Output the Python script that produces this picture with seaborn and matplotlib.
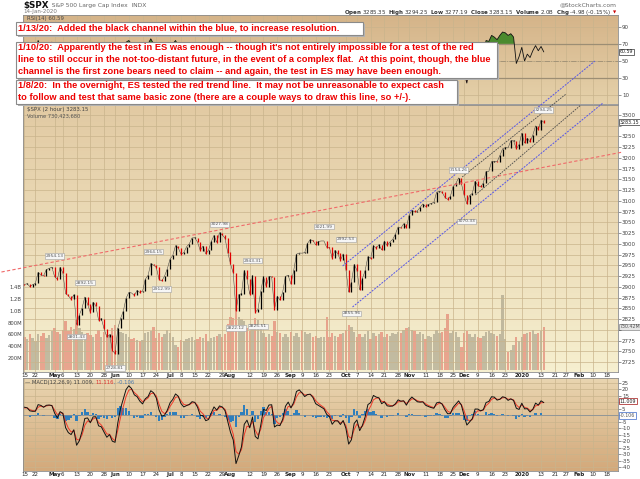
import numpy as np
import pandas as pd
import matplotlib
matplotlib.use('Agg')
import matplotlib.pyplot as plt
import seaborn as sns
from matplotlib.patches import Rectangle

sns.set_theme(style='white')
plt.rcParams['font.family'] = ['DejaVu Sans']

# trading calendar (x axis = trading day index, 0 = 15-Apr-2019)
holidays = ['2019-04-19', '2019-05-27', '2019-07-04', '2019-09-02', '2019-11-28',
            '2019-12-25', '2020-01-01', '2020-01-20', '2020-02-17']

# closes used only to warm up the MACD (1-12 Apr 2019)
warmup_close = [2867.19, 2867.24, 2873.40, 2879.39, 2892.74, 2895.77, 2878.20, 2888.21, 2888.32, 2907.41]

# daily closes 15-Apr-2019 .. 14-Jan-2020
close = [
    # Apr
    2905.58, 2907.06, 2900.45, 2905.03, 2907.97, 2933.68, 2927.25, 2926.17, 2939.88, 2943.03, 2945.83,
    # May
    2923.73, 2917.52, 2945.64, 2932.47, 2884.05, 2879.42, 2870.72, 2881.40, 2811.87, 2834.41, 2850.96,
    2876.32, 2859.53, 2840.23, 2864.36, 2856.27, 2822.24, 2826.06, 2802.39, 2783.02, 2788.86, 2752.06,
    # Jun
    2744.45, 2803.27, 2826.15, 2843.49, 2873.34, 2886.73, 2885.72, 2879.84, 2891.64, 2886.98,
    2889.67, 2917.75, 2926.46, 2954.18, 2950.46, 2945.35, 2917.38, 2913.78, 2924.92, 2941.76,
    # Jul
    2964.33, 2973.01, 2995.82, 2990.41, 2975.95, 2979.63, 2993.07, 2999.91, 3013.77, 3014.30, 3004.04,
    2984.42, 2995.11, 2976.61, 2985.03, 3005.47, 3019.56, 3003.67, 3025.86, 3020.97, 3013.18, 2980.38,
    # Aug
    2953.56, 2932.05, 2844.74, 2881.77, 2883.98, 2938.09, 2918.65, 2882.70, 2926.32, 2840.60, 2847.60,
    2888.68, 2923.65, 2900.51, 2924.43, 2922.95, 2847.11, 2878.38, 2869.16, 2887.94, 2924.58, 2926.46,
    # Sep
    2906.27, 2937.78, 2976.00, 2978.71, 2978.43, 2979.39, 3000.93, 3009.57, 3007.39, 2997.96,
    3005.70, 3006.73, 3006.79, 2992.07, 2991.78, 2966.60, 2984.87, 2977.62, 2961.79, 2976.74,
    # Oct
    2940.25, 2887.61, 2910.63, 2952.01, 2938.79, 2893.06, 2919.40, 2938.13, 2970.27, 2966.15, 2995.68, 2989.69,
    2997.95, 2986.20, 3006.72, 2995.99, 3004.52, 3010.29, 3022.55, 3039.42, 3036.89, 3046.77, 3037.56,
    # Nov
    3066.91, 3078.27, 3074.62, 3076.78, 3085.18, 3093.08, 3087.01, 3091.84, 3094.04, 3096.63,
    3120.46, 3122.03, 3120.18, 3108.46, 3103.54, 3110.29, 3133.64, 3140.52, 3153.63, 3140.98,
    # Dec
    3113.87, 3093.20, 3112.76, 3117.43, 3145.91, 3135.96, 3132.52, 3141.63, 3168.57, 3168.80, 3191.45,
    3192.52, 3191.14, 3205.37, 3221.22, 3224.01, 3223.38, 3239.91, 3240.02, 3221.29, 3230.78,
    # Jan
    3257.85, 3234.85, 3246.28, 3237.18, 3253.05, 3274.70, 3265.35, 3288.13, 3283.15,
]

# volume, millions (height of the 2-hour volume bars)
volume = [
    560, 520, 610, 540, 480, 600, 580, 620, 540, 590, 650,
    700, 640, 600, 680, 820, 660, 720, 690, 850, 700, 640, 610, 620, 590, 560, 600, 680, 560, 640, 600, 580, 700,
    760, 700, 640, 620, 610, 560, 520, 540, 500, 480, 500, 620, 640, 660, 720, 540, 620, 560, 600, 680,
    620, 560, 420, 380, 500, 480, 520, 540, 560, 500, 520, 560, 540, 600, 480, 540, 560, 580, 600, 560, 600, 780,
    900, 880, 1050, 900, 860, 820, 700, 660, 760, 880, 840, 720, 620, 560, 600, 580, 820, 640, 620, 560, 600, 560,
    640, 580, 620, 560, 680, 640, 600, 620, 560, 580, 540, 560, 560, 900, 560, 620, 580, 560, 600, 620,
    680, 760, 720, 640, 560, 600, 560, 600, 660, 520, 620, 580, 600, 640, 560, 600, 580, 620, 600, 640, 620, 680, 700,
    720, 680, 660, 600, 640, 600, 520, 580, 560, 600, 680, 620, 640, 700, 940, 620, 660, 640, 560, 380,
    620, 660, 600, 560, 600, 560, 540, 580, 640, 660, 620, 600, 580, 600, 1260, 520, 300, 340, 420, 560, 480,
    560, 600, 620, 640, 680, 600, 620, 660, 730,
]

# RSI(14) (mostly hidden by the comment boxes)
rsi = [
    58, 60, 52, 55, 57, 74, 66, 64, 70, 71, 72,
    48, 45, 66, 58, 30, 32, 30, 40, 22, 36, 45, 58, 48, 40, 52, 48, 35, 38, 30, 25, 30, 22,
    20, 55, 62, 66, 72, 74, 70, 62, 66, 60, 60, 70, 70, 76, 70, 66, 45, 45, 55, 62,
    70, 70, 74, 68, 55, 58, 64, 66, 70, 68, 58, 45, 55, 45, 52, 64, 68, 55, 68, 62, 58, 40,
    32, 30, 18, 35, 38, 58, 50, 38, 55, 30, 32, 48, 58, 50, 56, 55, 32, 45, 42, 50, 60, 60,
    52, 62, 70, 70, 68, 66, 70, 70, 68, 58, 62, 60, 60, 50, 50, 38, 52, 48, 40, 50,
    35, 22, 35, 55, 50, 32, 45, 52, 66, 62, 70, 64, 66, 58, 66, 58, 62, 64, 68, 70, 64, 68, 60,
    70, 70, 64, 64, 66, 68, 58, 62, 62, 64, 70, 68, 64, 52, 48, 55, 66, 68, 70, 58,
    36, 24, 45, 50, 64, 56, 52, 60, 74, 73, 80, 78, 75, 80, 84, 83, 80, 82, 78, 47, 55,
    66, 50, 58, 54, 62, 68, 62, 67, 60.59,
]

tick_dates = ['2019-04-15', '2019-04-22', '2019-05-01', '2019-05-06', '2019-05-13', '2019-05-20', '2019-05-28',
              '2019-06-03', '2019-06-10', '2019-06-17', '2019-06-24', '2019-07-01', '2019-07-08', '2019-07-15',
              '2019-07-22', '2019-07-29', '2019-08-01', '2019-08-12', '2019-08-19', '2019-08-26', '2019-09-03',
              '2019-09-09', '2019-09-16', '2019-09-23', '2019-10-01', '2019-10-07', '2019-10-14', '2019-10-21',
              '2019-10-28', '2019-11-01', '2019-11-11', '2019-11-18', '2019-11-25', '2019-12-02', '2019-12-09',
              '2019-12-16', '2019-12-23', '2020-01-02', '2020-01-13', '2020-01-21', '2020-01-27', '2020-02-03',
              '2020-02-10', '2020-02-18']
tick_labels = ['15', '22', 'May', '6', '13', '20', '28', 'Jun', '10', '17', '24', 'Jul', '8', '15', '22', '29',
               'Aug', '12', '19', '26', 'Sep', '9', '16', '23', 'Oct', '7', '14', '21', '28', 'Nov', '11', '18',
               '25', 'Dec', '9', '16', '23', '2020', '13', '21', '27', 'Feb', '10', '18']
bold_labels = ['May', 'Jun', 'Jul', 'Aug', 'Sep', 'Oct', 'Nov', 'Dec', '2020', 'Feb']

# swing tags
tag_dates = ['2019-05-01', '2019-05-13', '2019-05-16', '2019-06-03', '2019-06-21', '2019-06-26', '2019-07-26',
             '2019-08-05', '2019-08-13', '2019-08-15', '2019-09-19', '2019-10-01', '2019-10-03', '2019-11-27',
             '2019-12-03', '2020-01-14']
tag_values = [2954.13, 2801.43, 2892.15, 2728.81, 2964.15, 2912.99, 3027.98, 2822.12, 2943.31, 2825.51,
              3021.99, 2992.53, 2855.96, 3154.26, 3070.33, 3294.25]
tag_side = [1, -1, 1, -1, 1, -1, 1, -1, 1, -1, 1, 1, -1, 1, -1, 1]

# hand-drawn trend lines (trading day, price)
red_line_day, red_line_price = [-8.35, 217.8], [2934.5, 3213.9]
blue_up_day, blue_up_price = [115.8, 207.6], [2948.5, 3425.7]
blue_lo_day, blue_lo_price = [119.4, 210.5], [2853.0, 3327.9]
black_up_day, black_up_price = [159.3, 197.1], [3155.7, 3348.9]
black_lo_day, black_lo_price = [164.1, 202.5], [3113.8, 3323.3]

notes = [
    ["1/13/20:  Added the black channel within the blue, to increase resolution."],
    ["1/10/20:  Apparently the test in ES was enough -- though it's not entirely impossible for a test of the red",
     "line to still occur in the not-too-distant future, in the event of a complex flat.  At this point, though, the blue",
     "channel is the first zone bears need to claim -- and again, the test in ES may have been enough."],
    ["1/8/20:  In the overnight, ES tested the red trend line.  It may not be unreasonable to expect cash",
     "to follow and test that same basic zone (there are a couple ways to draw this line, so +/-)."],
]

# ---------------------------------------------------------------------------
cal = pd.bdate_range('2019-04-01', '2020-02-28', freq='C', holidays=holidays)
origin = cal.get_loc(pd.Timestamp('2019-04-15'))
tick_pos = cal.get_indexer(pd.to_datetime(tick_dates)) - origin
tag_pos = cal.get_indexer(pd.to_datetime(tag_dates)) - origin

allc = pd.Series(warmup_close + close, dtype=float)
n_w = len(warmup_close)
days = np.arange(len(close))
c = np.array(close)
prev = allc.shift(1).values[n_w:]
up = c >= prev
rsi = np.array(rsi, dtype=float)

# MACD(12,26,9) of 2-hour bars, spans expressed per trading day (4 bars a day)
ema_f = allc.ewm(alpha=0.4875, adjust=False).mean()
ema_s = allc.ewm(alpha=0.2739, adjust=False).mean()
macd_s = ema_f - ema_s
signal_s = macd_s.ewm(alpha=0.5904, adjust=False).mean()
macd = macd_s.to_numpy()[n_w:]
signal = signal_s.to_numpy()[n_w:]
hist = macd - signal

W, H = 640, 479
fx = lambda px: px / W
fy = lambda py: 1 - py / H

fig = plt.figure(figsize=(6.4, 4.79), dpi=100)
rend = fig.canvas.get_renderer()
L, Wd = fx(23), (618 - 23) / W
ax_rsi = fig.add_axes([L, fy(104), Wd, (104 - 15) / H])
ax_vol = fig.add_axes([L, fy(372), Wd, (372 - 105) / H])
ax = fig.add_axes([L, fy(372), Wd, (372 - 105) / H], sharex=ax_vol)
ax_macd = fig.add_axes([L, fy(471), Wd, (471 - 378) / H])
ax_rsi.set_zorder(0)
ax_vol.set_zorder(1)
ax.set_zorder(2)
ax.patch.set_visible(False)

XL = (-0.5, 216)
grid_c = '#c9b48c'
tick_fs = 4.0
spine_c = '#8c8c8c'


def gradient(a, top, bottom):
    t = np.array(matplotlib.colors.to_rgb(top))
    b = np.array(matplotlib.colors.to_rgb(bottom))
    g = np.linspace(0, 1, 64)[:, None, None]
    img = t * (1 - g) + b * g
    img = np.repeat(img, 2, axis=1)
    a.imshow(img, extent=(0, 1, 0, 1), transform=a.transAxes, aspect='auto', zorder=-10)


def style_axis(a, ylim, yticks, hide=()):
    a.set_xlim(*XL)
    a.set_ylim(*ylim)
    a.set_xticks(tick_pos)
    a.set_yticks(yticks)
    a.set_yticklabels(['' if v in hide else f'{v:g}' for v in yticks])
    a.yaxis.tick_right()
    a.tick_params(axis='y', labelsize=tick_fs, length=2, pad=0.8, colors='#444444', width=0.4)
    a.tick_params(axis='x', length=0)
    for s in a.spines.values():
        s.set_color(spine_c)
        s.set_linewidth(0.6)
    a.set_xlabel('')
    a.set_ylabel('')


def xlabels(a, show):
    if show:
        a.set_xticklabels(tick_labels)
        a.tick_params(axis='x', labelsize=tick_fs, pad=0.6, colors='#222222')
        for t in a.get_xticklabels():
            if t.get_text() in bold_labels:
                t.set_fontweight('bold')
    else:
        a.set_xticklabels([])


def right_tag(a, y, txt, ec, color='#222222', fc='white'):
    a.annotate(txt, xy=(1.003, y), xycoords=('axes fraction', 'data'), fontsize=3.4, va='center',
               color=color, annotation_clip=False, zorder=8,
               bbox=dict(boxstyle='square,pad=0.12', fc=fc, ec=ec, lw=0.5))


def text_row(x_px, y_px, parts, fs):
    # consecutive text pieces on one line, each starting where the previous ended
    x = fx(x_px)
    for txt, kw in parts:
        opts = dict(fontsize=fs, va='center')
        opts.update(kw)
        t = fig.text(x, fy(y_px), txt, **opts)
        x = t.get_window_extent(rend).x1 / W


# ---- RSI panel
gradient(ax_rsi, '#d5b489', '#e5d1aa')
ax_rsi.grid(True, color=grid_c, lw=0.5)
ax_rsi.axhline(70, color='#9c8e74', lw=0.9)
ax_rsi.axhline(30, color='#9c8e74', lw=0.9)
ax_rsi.axhline(50, color='#9c8e74', lw=0.6, ls='-.')
ax_rsi.fill_between(days, 70, rsi, where=rsi > 70, interpolate=True, color='#4a8a2e', lw=0)
ax_rsi.fill_between(days, 30, rsi, where=rsi < 30, interpolate=True, color='#d04040', lw=0)
sns.lineplot(x=days, y=rsi, ax=ax_rsi, color='#111111', lw=0.6)
style_axis(ax_rsi, (-0.6, 104), [10, 30, 50, 70, 90])
xlabels(ax_rsi, False)
right_tag(ax_rsi, 60.59, '60.59', '#333333')

# ---- volume (behind price)
gradient(ax_vol, '#e2caa3', '#f6efcf')
vol = np.array(volume)
ax_vol.bar(days[up], vol[up], width=0.85, color='#857f6c', alpha=0.45, lw=0)
ax_vol.bar(days[~up], vol[~up], width=0.85, color='#df6a5c', alpha=0.55, lw=0)
ax_vol.set_xlim(*XL)
ax_vol.set_ylim(-36, 4475)
ax_vol.set_yticks([200, 400, 600, 800, 1000, 1200, 1400])
ax_vol.set_yticklabels(['200M', '400M', '600M', '800M', '1.0B', '1.2B', '1.4B'])
ax_vol.tick_params(axis='y', labelsize=3.8, length=0, pad=0.8, colors='#444444')
ax_vol.tick_params(axis='x', length=0, labelbottom=False)
for s in ax_vol.spines.values():
    s.set_visible(False)

# ---- price panel
ax.set_axisbelow(True)
ax.grid(True, color=grid_c, lw=0.5)
lo = np.minimum(prev, c)
hi = np.maximum(prev, c)
ax.vlines(days[up], lo[up], hi[up] + 0.8, color='#000000', lw=0.9, zorder=4)
ax.vlines(days[~up], lo[~up] - 0.8, hi[~up], color='#e00000', lw=0.9, zorder=4)
sns.lineplot(x=days, y=c, ax=ax, color='#3a3a3a', lw=0.35, zorder=3)

ax.plot(red_line_day, red_line_price, color='#f06a6a', lw=0.8, dashes=(3, 2), clip_on=False, zorder=5)
for dd, pp in [(blue_up_day, blue_up_price), (blue_lo_day, blue_lo_price)]:
    ax.plot(dd, pp, color='#5656e8', lw=0.7, dashes=(2, 1.2), clip_on=False, zorder=5)
for dd, pp in [(black_up_day, black_up_price), (black_lo_day, black_lo_price)]:
    ax.plot(dd, pp, color='#4a4a4a', lw=0.6, dashes=(2, 1.2), clip_on=False, zorder=5)

for d, v, s in zip(tag_pos, tag_values, tag_side):
    ax.annotate(f'{v:.2f}', xy=(d, v), xytext=(0, 5.5 * s), textcoords='offset points', ha='center',
                va='center', fontsize=3.2, color='#555555', zorder=6,
                bbox=dict(boxstyle='square,pad=0.15', fc='#f6f6f6', ec='#a0a0a0', lw=0.4))

style_axis(ax, (2701.7, 3323.3), np.arange(2725, 3301, 25), hide=(3275, 2800))
xlabels(ax, True)
right_tag(ax, 3283.15, '3283.15', '#333333')
right_tag(ax_vol, 730, '730.42M', '#888888', color='#555555', fc='#e6e6e6')

# ---- MACD panel
gradient(ax_macd, '#e9d5b0', '#d3a97b')
ax_macd.grid(True, color=grid_c, lw=0.5)
ax_macd.bar(days, hist, width=0.85, color='#2f7fbd', lw=0, zorder=2)
ax_macd.axhline(0, color='#7a8a9a', lw=0.5, zorder=2)
sns.lineplot(x=days, y=signal, ax=ax_macd, color='#f03a2a', lw=0.7, zorder=3)
sns.lineplot(x=days, y=macd, ax=ax_macd, color='#111111', lw=0.7, zorder=4)
style_axis(ax_macd, (-43.1, 28.9), np.arange(-40, 26, 5), hide=(10, 0))
xlabels(ax_macd, True)
right_tag(ax_macd, 11.009, '11.009', '#a01010')
right_tag(ax_macd, -0.106, '-0.106', '#3a68c8', color='#555555')

# ---- header and legends
text_row(23, 5.5, [('$SPX', dict(fontsize=6.3, fontweight='bold', color='#111111')),
                   ('  S&P 500 Large Cap Index  INDX', dict(color='#666666'))], 4.3)
fig.text(fx(23), fy(11.5), '14-Jan-2020', fontsize=4.0, color='#777777', va='center')
fig.text(fx(617), fy(5), '@StockCharts.com', fontsize=4.3, color='#666666', va='center', ha='right')
fig.text(fx(611), fy(12.5),
         r'$\bf{Open}$ 3285.35  $\bf{High}$ 3294.25  $\bf{Low}$ 3277.19  $\bf{Close}$ 3283.15  '
         r'$\bf{Volume}$ 2.0B  $\bf{Chg}$ -4.98 (-0.15%)',
         fontsize=4.0, color='#333333', va='center', ha='right')
fig.text(fx(612.5), fy(12.5), '\u25bc', fontsize=3, color='#cc0000', va='center', ha='left')
fig.text(fx(27), fy(18.5), 'RSI(14) 60.59', fontsize=3.9, color='#444444', va='center')
fig.text(fx(27), fy(110), '$SPX (2 hour) 3283.15', fontsize=3.9, color='#444444', va='center')
fig.text(fx(27), fy(116), 'Volume 730,423,680', fontsize=3.7, color='#555555', va='center')
text_row(25, 382.5, [('\u2014 MACD(12,26,9) 11.009, ', dict(color='#444444')),
                     ('11.116', dict(color='#e03030')),
                     (', -0.106', dict(color='#4a7ab0'))], 3.8)

# ---- comment boxes
boxes = [(16, 22, 363, 35), (16, 42, 497, 78), (16, 80, 457, 104)]
line_y = [[28.5], [48, 60, 71.5], [86, 97.5]]
for (x0, y0, x1, y1), lines, ys in zip(boxes, notes, line_y):
    fig.add_artist(Rectangle((fx(x0 + 1.5), fy(y1 + 1.5)), (x1 - x0) / W, (y1 - y0) / H,
                             transform=fig.transFigure, fc='#b4b4b4', ec='none', zorder=9))
    fig.add_artist(Rectangle((fx(x0), fy(y1)), (x1 - x0) / W, (y1 - y0) / H,
                             transform=fig.transFigure, fc='white', ec='#8a8a8a', lw=0.8, zorder=10))
    for txt, yy in zip(lines, ys):
        fig.text(fx(x0 + 2.5), fy(yy), txt, fontsize=6.65, fontweight='bold', color='#ee0000',
                 family=['Liberation Sans', 'DejaVu Sans'], va='center', zorder=11)

fig.savefig('out.png', dpi=100, facecolor='white')
